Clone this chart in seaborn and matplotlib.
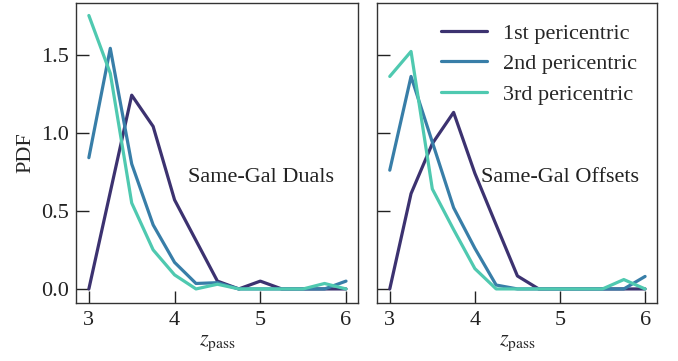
import numpy as np
import pandas as pd
import matplotlib
matplotlib.use("Agg")
import matplotlib.pyplot as plt
import seaborn as sns

z_pass = [3.0, 3.25, 3.5, 3.75, 4.0, 4.25, 4.5, 4.75, 5.0, 5.25, 5.5, 5.75, 6.0]
labels = ["1st pericentric", "2nd pericentric", "3rd pericentric"]

duals_1st = [0.0, 0.62, 1.24, 1.04, 0.57, 0.31, 0.05, 0.0, 0.05, 0.0, 0.0, 0.0, 0.0]
duals_2nd = [0.84, 1.54, 0.80, 0.41, 0.17, 0.035, 0.04, 0.0, 0.0, 0.0, 0.0, 0.0, 0.05]
duals_3rd = [1.75, 1.38, 0.55, 0.25, 0.09, 0.0, 0.03, 0.0, 0.0, 0.0, 0.0, 0.035, 0.0]

offs_1st = [0.0, 0.61, 0.93, 1.13, 0.74, 0.41, 0.083, 0.0, 0.0, 0.0, 0.0, 0.0, 0.0]
offs_2nd = [0.76, 1.36, 0.94, 0.52, 0.26, 0.025, 0.0, 0.0, 0.0, 0.0, 0.0, 0.0, 0.08]
offs_3rd = [1.36, 1.52, 0.64, 0.38, 0.13, 0.0, 0.0, 0.0, 0.0, 0.0, 0.0, 0.06, 0.0]

panel_titles = ["Same-Gal Duals", "Same-Gal Offsets"]
colors = ["#3c3270", "#387ea8", "#4fc9b0"]


def long_form(series):
    rows = []
    for lab, vals in zip(labels, series):
        for z, v in zip(z_pass, vals):
            rows.append({"z": z, "pdf": v, "kind": lab})
    return pd.DataFrame(rows)


df_duals = long_form([duals_1st, duals_2nd, duals_3rd])
df_offs = long_form([offs_1st, offs_2nd, offs_3rd])

sns.set_style("ticks")
plt.rcParams["font.family"] = ["Liberation Serif", "DejaVu Serif"]
plt.rcParams["mathtext.fontset"] = "stix"
plt.rcParams["font.size"] = 16

FS = 16
fig = plt.figure(figsize=(6.78, 3.61), dpi=100)
ax1 = fig.add_axes([76 / 678, 58 / 361, 282 / 678, 300 / 361])
ax2 = fig.add_axes([377 / 678, 58 / 361, 280 / 678, 300 / 361])

for ax, df, title, show_leg in [(ax1, df_duals, panel_titles[0], False),
                                 (ax2, df_offs, panel_titles[1], True)]:
    sns.lineplot(data=df, x="z", y="pdf", hue="kind", palette=colors,
                 linewidth=2.3, ax=ax, legend=show_leg)
    ax.set_xlim(2.85, 6.14)
    ax.set_ylim(-0.09, 1.83)
    ax.set_xticks([3, 4, 5, 6])
    ax.set_yticks([0.0, 0.5, 1.0, 1.5])
    ax.tick_params(direction="in", length=9, width=1, labelsize=FS, colors="#222222",
                   labelcolor="#222222")
    ax.tick_params(axis="x", pad=6)
    ax.tick_params(axis="y", pad=5)
    for s in ax.spines.values():
        s.set_linewidth(1.0)
        s.set_color("#333333")
    ax.set_xlabel(r"$z_{\rm pass}$", fontsize=FS, labelpad=2.5)
    ax.text(0.655, 0.42, title, transform=ax.transAxes, ha="center", va="center",
            fontsize=FS, color="#222222")

ax1.set_ylabel("PDF", fontsize=FS, labelpad=4)
ax2.set_ylabel("")
ax2.set_yticklabels([])

handles, labs = ax2.get_legend_handles_labels()
ax2.legend(handles, labs, loc="upper right", frameon=False, fontsize=FS,
           handlelength=2.1, labelspacing=0.45, handletextpad=0.7,
           bbox_to_anchor=(1.0, 1.0))

fig.savefig("out.png", dpi=100)
